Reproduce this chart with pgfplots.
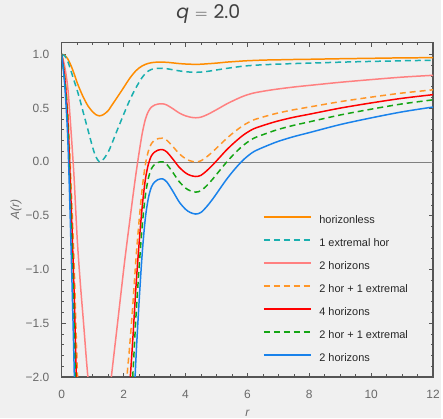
\documentclass[border=0pt]{standalone}
\usepackage{fontspec}
\setmainfont{Liberation Sans}
\newfontfamily\titlefont{Poppins}
\usepackage{pgfplots}
\pgfplotsset{compat=1.18}
\definecolor{bg}{RGB}{240,240,240}
\definecolor{c1}{RGB}{255,140,0}
\definecolor{c2}{RGB}{26,175,175}
\definecolor{c3}{RGB}{255,128,128}
\definecolor{c4}{RGB}{255,150,40}
\definecolor{c5}{RGB}{255,0,0}
\definecolor{c6}{RGB}{20,165,20}
\definecolor{c7}{RGB}{25,130,235}
\definecolor{framec}{RGB}{85,85,85}
\definecolor{tickc}{RGB}{105,105,105}
\begin{document}
\begin{tikzpicture}
\fill[bg] (-62pt,-41.3pt) rectangle (381pt,378.7pt);
\begin{axis}[
  scale only axis, width=373pt, height=336pt,
  xmin=0, xmax=12, ymin=-2, ymax=1.11,
  axis line style={framec, line width=1.1pt},
  xtick={0,2,4,6,8,10,12}, xticklabels={0,2,4,6,8,10,12},
  ytick={-2,-1.5,-1,-0.5,0,0.5,1},
  yticklabels={−2.0,−1.5,−1.0,−0.5,0.0,0.5,1.0},
  minor x tick num=3, minor y tick num=4,
  tick align=inside, tick pos=both, xticklabel pos=lower, yticklabel pos=left,
  major tick length=4.5pt, minor tick length=2.5pt,
  tick style={framec, line width=0.6pt},
  ticklabel style={font=\fontsize{12}{12}\selectfont, text=tickc},
  xticklabel style={yshift=-9.5pt},
  yticklabel style={xshift=-9pt},
  xlabel={\itshape r}, ylabel={\itshape A(r)},
  label style={font=\fontsize{12}{12}\selectfont, text=tickc},
  xlabel style={at={(axis description cs:0.5,-0.0982)}, anchor=north, inner sep=0pt},
  ylabel style={at={(axis description cs:-0.1233,0.5)}, anchor=center, inner sep=0pt},
  title={\titlefont\textit{q}\hspace{6pt}$=$\hspace{6pt}2.0},
  title style={at={(axis description cs:0.395,1.0527)}, anchor=base, inner sep=0pt, font=\fontsize{19}{21}\selectfont, text=black!75},
  legend cell align=left,
  legend image code/.code={\draw[#1, line width=1.6pt] (0pt,3.6pt) -- (47pt,3.6pt);},
  legend style={at={(axis description cs:0.5416,0.489)}, anchor=north west,
    draw=none, fill=none, inner sep=0pt, row sep=8.6pt, column sep=6pt,
    font=\fontsize{11}{13}\selectfont, text=black!85,
    nodes={inner sep=2pt, text height=8pt, text depth=2.5pt}},
  every axis plot/.append style={line width=1.5pt},
]
\addplot[gray, line width=0.6pt, forget plot] coordinates {(0,0) (12,0)};
\addplot[c1, smooth] coordinates {(0,1) (0.1,0.99) (0.2,0.955) (0.3,0.895) (0.4,0.82) (0.5,0.735) (0.6,0.665) (0.7,0.6) (0.85,0.52) (1.0,0.465) (1.1,0.44) (1.22,0.428) (1.35,0.44) (1.5,0.476) (1.6,0.518) (1.8,0.603) (2.0,0.69) (2.1,0.735) (2.2,0.778) (2.3,0.815) (2.4,0.848) (2.5,0.873) (2.6,0.892) (2.7,0.906) (2.8,0.916) (2.9,0.922) (3.0,0.926) (3.1,0.927) (3.26,0.927) (3.4,0.926) (3.6,0.92) (3.8,0.914) (4.0,0.91) (4.15,0.908) (4.33,0.907) (4.5,0.908) (4.7,0.912) (4.9,0.916) (5.1,0.921) (5.3,0.927) (5.5,0.931) (5.7,0.935) (5.9,0.939) (6.2,0.943) (6.6,0.947) (7,0.949) (7.5,0.952) (8,0.954) (9,0.959) (10,0.963) (11,0.967) (12,0.969)};
\addlegendentry{horizonless}
\addplot[c2, smooth, dash pattern=on 6pt off 4pt] coordinates {(0,1) (0.1,0.985) (0.2,0.93) (0.3,0.845) (0.4,0.755) (0.5,0.665) (0.6,0.565) (0.7,0.455) (0.85,0.295) (1.0,0.135) (1.1,0.05) (1.22,0.0) (1.35,0.025) (1.5,0.09) (1.6,0.155) (1.8,0.30) (2.0,0.44) (2.1,0.51) (2.2,0.575) (2.3,0.635) (2.4,0.69) (2.5,0.74) (2.6,0.785) (2.7,0.82) (2.8,0.845) (2.9,0.86) (3.0,0.866) (3.1,0.869) (3.26,0.87) (3.4,0.866) (3.6,0.856) (3.8,0.846) (4.0,0.838) (4.15,0.835) (4.33,0.833) (4.5,0.835) (4.7,0.841) (4.9,0.85) (5.1,0.859) (5.3,0.868) (5.5,0.876) (5.7,0.884) (5.9,0.891) (6.2,0.898) (6.6,0.904) (7,0.909) (7.5,0.914) (8,0.918) (9,0.927) (10,0.934) (11,0.94) (12,0.945)};
\addlegendentry{1 extremal hor}
\addplot[c3, smooth] coordinates {(0,1) (0.1,0.882) (0.2,0.676) (0.3,0.292) (0.4,-0.15) (0.5,-0.711) (0.6,-1.124) (0.7,-1.478) (0.85,-2.009) (1.0,-2.304) (1.1,-2.452) (1.22,-2.54) (1.35,-2.493) (1.5,-2.275) (1.6,-2.009) (1.8,-1.51) (2.0,-1.006) (2.1,-0.77) (2.2,-0.546) (2.3,-0.322) (2.4,-0.109) (2.5,0.085) (2.6,0.262) (2.7,0.392) (2.8,0.469) (2.9,0.51) (3.0,0.528) (3.1,0.537) (3.26,0.54) (3.4,0.528) (3.6,0.493) (3.8,0.454) (4.0,0.428) (4.15,0.416) (4.33,0.41) (4.5,0.416) (4.7,0.439) (4.9,0.469) (5.1,0.501) (5.3,0.534) (5.5,0.563) (5.7,0.59) (5.9,0.614) (6.2,0.64) (6.6,0.661) (7,0.678) (7.5,0.696) (8,0.711) (9,0.74) (10,0.765) (11,0.788) (12,0.805)};
\addlegendentry{2 horizons}
\addplot[c4, smooth, dash pattern=on 6pt off 4pt] coordinates {(0,1) (0.1,0.8) (0.2,0.45) (0.3,-0.2) (0.4,-0.95) (0.5,-1.9) (0.6,-2.6) (0.7,-3.2) (0.85,-4.1) (1.0,-4.6) (1.1,-4.85) (1.22,-5.0) (1.35,-4.92) (1.5,-4.55) (1.6,-4.1) (1.8,-3.2) (2.0,-2.35) (2.1,-2.02) (2.2,-1.7) (2.3,-1.32) (2.4,-0.9) (2.5,-0.55) (2.6,-0.25) (2.7,-0.03) (2.8,0.1) (2.9,0.17) (3.0,0.2) (3.1,0.215) (3.26,0.22) (3.4,0.2) (3.6,0.14) (3.8,0.075) (4.0,0.03) (4.15,0.01) (4.33,0.0) (4.5,0.01) (4.7,0.05) (4.9,0.1) (5.1,0.155) (5.3,0.21) (5.5,0.26) (5.7,0.305) (5.9,0.345) (6.2,0.39) (6.6,0.425) (7,0.455) (7.5,0.485) (8,0.51) (9,0.56) (10,0.602) (11,0.64) (12,0.67)};
\addlegendentry{2 hor + 1 extremal}
\addplot[c5, smooth] coordinates {(0,1) (0.1,0.773) (0.2,0.375) (0.3,-0.363) (0.4,-1.215) (0.5,-2.294) (0.6,-3.09) (0.7,-3.771) (0.85,-4.794) (1.0,-5.36) (1.1,-5.646) (1.22,-5.816) (1.35,-5.725) (1.5,-5.305) (1.6,-4.794) (1.8,-3.771) (2.0,-2.806) (2.1,-2.431) (2.2,-2.067) (2.3,-1.636) (2.4,-1.158) (2.5,-0.761) (2.6,-0.42) (2.7,-0.17) (2.8,-0.022) (2.9,0.057) (3.0,0.091) (3.1,0.108) (3.26,0.114) (3.4,0.091) (3.6,0.023) (3.8,-0.051) (4.0,-0.102) (4.15,-0.125) (4.33,-0.136) (4.5,-0.125) (4.7,-0.079) (4.9,-0.022) (5.1,0.04) (5.3,0.103) (5.5,0.159) (5.7,0.21) (5.9,0.256) (6.2,0.307) (6.6,0.347) (7,0.381) (7.5,0.415) (8,0.443) (9,0.5) (10,0.548) (11,0.591) (12,0.625)};
\addlegendentry{4 horizons}
\addplot[c6, smooth, dash pattern=on 6pt off 4pt] coordinates {(0,1) (0.1,0.744) (0.2,0.295) (0.3,-0.537) (0.4,-1.498) (0.5,-2.715) (0.6,-3.612) (0.7,-4.38) (0.85,-5.533) (1.0,-6.174) (1.1,-6.494) (1.22,-6.686) (1.35,-6.584) (1.5,-6.11) (1.6,-5.533) (1.8,-4.38) (2.0,-3.291) (2.1,-2.869) (2.2,-2.459) (2.3,-1.972) (2.4,-1.434) (2.5,-0.986) (2.6,-0.601) (2.7,-0.319) (2.8,-0.153) (2.9,-0.063) (3.0,-0.025) (3.1,-0.006) (3.26,0.001) (3.4,-0.025) (3.6,-0.102) (3.8,-0.185) (4.0,-0.243) (4.15,-0.268) (4.33,-0.281) (4.5,-0.268) (4.7,-0.217) (4.9,-0.153) (5.1,-0.082) (5.3,-0.012) (5.5,0.052) (5.7,0.11) (5.9,0.161) (6.2,0.219) (6.6,0.263) (7,0.302) (7.5,0.34) (8,0.372) (9,0.436) (10,0.49) (11,0.539) (12,0.577)};
\addlegendentry{2 hor + 1 extremal}
\addplot[c7, smooth] coordinates {(0,1) (0.1,0.703) (0.2,0.183) (0.3,-0.782) (0.4,-1.896) (0.5,-3.307) (0.6,-4.346) (0.7,-5.237) (0.85,-6.574) (1.0,-7.316) (1.1,-7.687) (1.22,-7.91) (1.35,-7.79) (1.5,-7.24) (1.6,-6.574) (1.8,-5.237) (2.0,-3.975) (2.1,-3.485) (2.2,-3.01) (2.3,-2.445) (2.4,-1.822) (2.5,-1.302) (2.6,-0.856) (2.7,-0.53) (2.8,-0.337) (2.9,-0.233) (3.0,-0.188) (3.1,-0.166) (3.26,-0.158) (3.4,-0.188) (3.6,-0.277) (3.8,-0.374) (4.0,-0.44) (4.15,-0.47) (4.33,-0.485) (4.5,-0.47) (4.7,-0.411) (4.9,-0.337) (5.1,-0.255) (5.3,-0.173) (5.5,-0.099) (5.7,-0.032) (5.9,0.027) (6.2,0.094) (6.6,0.146) (7,0.191) (7.5,0.235) (8,0.272) (9,0.347) (10,0.409) (11,0.465) (12,0.51)};
\addlegendentry{2 horizons}
\end{axis}
\end{tikzpicture}
\end{document}
